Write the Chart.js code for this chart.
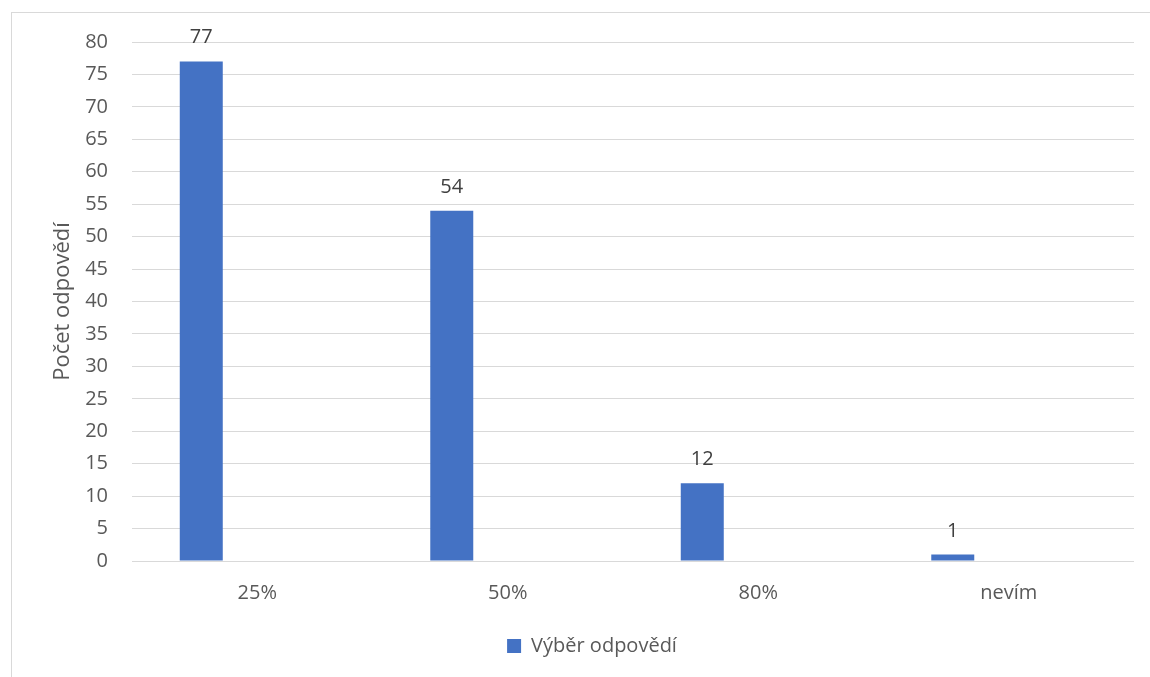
<!DOCTYPE html>
<html>
<head>
<meta charset="utf-8">
<script src="https://cdn.jsdelivr.net/npm/chart.js@4/dist/chart.umd.min.js"></script>
<style>
	html, body { margin: 0; padding: 0; background: #ffffff; }
	#wrap { width: 1150px; height: 677px; }
</style>
</head>
<body>
<div id="wrap"><canvas id="plot" width="1150" height="677"></canvas></div>
<script>
const categories = ['25%', '50%', '80%', 'nevím'];
const answers = [77, 54, 12, 1];
const emptySeries = [null, null, null, null];
const seriesName = 'Výběr odpovědí';
const axisTitle = 'Počet odpovědí';

const textColor = '#595959';
const fontFamily = '"Open Sans", sans-serif';

// ramecek kolem grafu
const framePlugin =
{
	id: 'frame',
	beforeDraw(chart)
	{
		const c = chart.ctx;
		c.save();
		c.strokeStyle = '#d9d9d9';
		c.lineWidth = 1;
		c.strokeRect(11.5, 12.5, chart.width + 20, chart.height + 20);
		c.restore();
	}
};

// hodnoty nad sloupci
const valuesPlugin =
{
	id: 'values',
	afterDatasetsDraw(chart)
	{
		const c = chart.ctx;
		const meta = chart.getDatasetMeta(0);
		c.save();
		c.fillStyle = '#404040';
		c.font = '20px ' + fontFamily;
		c.textAlign = 'center';
		c.textBaseline = 'alphabetic';
		meta.data.forEach(function(bar, i)
		{
			c.fillText(String(answers[i]), bar.x, bar.y - 18);
		});
		c.restore();
	}
};

const ctx = document.getElementById('plot').getContext('2d');
const plot = new Chart(ctx,
{
	type: 'bar',
	data:
	{
		labels: categories,
		datasets:
		[
			{ label: seriesName, data: answers, backgroundColor: '#4472c4', categoryPercentage: 0.894, barPercentage: 0.384 },
			{ label: '', data: emptySeries, backgroundColor: '#ed7d31', categoryPercentage: 0.894, barPercentage: 0.384 }
		]
	},
	options:
	{
		responsive: false,
		animation: false,
		layout: { padding: { top: 42, right: 16, bottom: 11, left: 50 } },
		plugins:
		{
			legend:
			{
				position: 'bottom',
				labels:
				{
					color: textColor,
					font: { family: fontFamily, size: 20 },
					boxWidth: 14,
					boxHeight: 14,
					padding: 19,
					filter: function(item) { return item.datasetIndex === 0; }
				}
			},
			tooltip: { enabled: false }
		},
		scales:
		{
			x:
			{
				grid: { display: false },
				border: { display: false },
				ticks: { color: textColor, font: { family: fontFamily, size: 20 }, padding: 12 }
			},
			y:
			{
				min: 0,
				max: 80,
				ticks: { stepSize: 5, color: textColor, font: { family: fontFamily, size: 20 }, padding: 24 },
				grid: { color: '#d9d9d9', lineWidth: 1, drawTicks: false },
				border: { display: false },
				title: { display: true, text: axisTitle, color: textColor, font: { family: fontFamily, size: 22 }, padding: { top: 0, bottom: 10 } },
				afterFit: function(scale) { scale.width = 82; }
			}
		}
	},
	plugins: [framePlugin, valuesPlugin]
});
</script>
</body>
</html>
